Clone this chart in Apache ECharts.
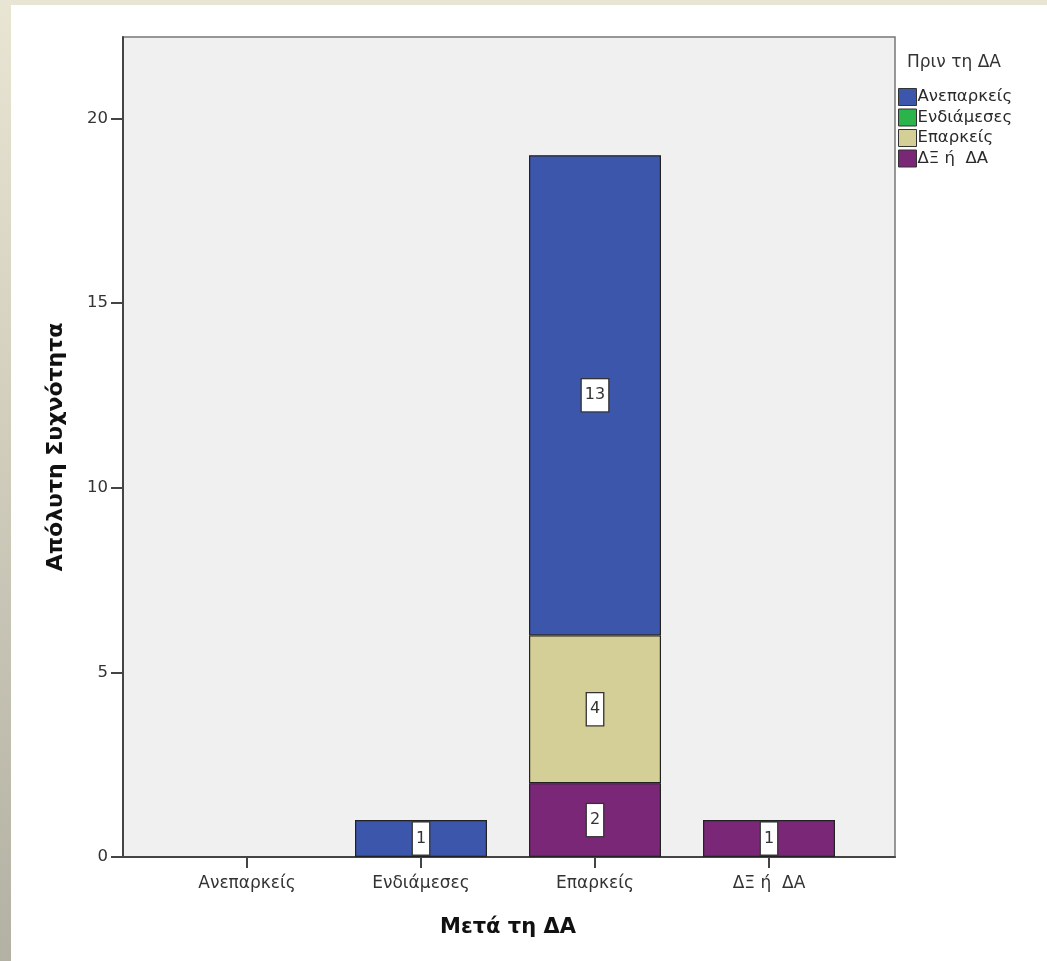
<!DOCTYPE html>
<html>
<head>
<meta charset="utf-8">
<script src="https://cdn.jsdelivr.net/npm/echarts@6/dist/echarts.min.js"></script>
<style>
html,body{margin:0;padding:0;background:#fff;}
#chart{width:1047px;height:961px;}
</style>
</head>
<body>
<div id="chart"></div>
<script>
// Categories (after) and series (before)
const categories = ['Ανεπαρκείς', 'Ενδιάμεσες', 'Επαρκείς', 'ΔΞ ή  ΔΑ'];
const legendOrder = ['Ανεπαρκείς', 'Ενδιάμεσες', 'Επαρκείς', 'ΔΞ ή  ΔΑ'];
const valsAnepar = [null, 1, 13, null];
const valsEndiam = [null, null, null, null];
const valsEpark = [null, null, 4, null];
const valsDX = [null, null, 2, 1];
const yTicks = [0, 5, 10, 15, 20];
const xTitle = 'Μετά τη ΔΑ';
const yTitle = 'Απόλυτη Συχνότητα';
const legendTitle = 'Πριν τη ΔΑ';

const colors = {
  'Ανεπαρκείς': '#3b56aa',
  'Ενδιάμεσες': '#2bb34c',
  'Επαρκείς': '#d4cf96',
  'ΔΞ ή  ΔΑ': '#7b2778'
};

const chart = echarts.init(document.getElementById('chart'));
const font = 'DejaVu Sans';
const labelStyle = {
  show: true,
  position: 'inside',
  formatter: p => (p.value == null ? '' : String(p.value)),
  backgroundColor: '#fff',
  borderColor: '#333',
  borderWidth: 1.3,
  padding: [8, 3],
  fontFamily: font,
  fontSize: 16,
  color: '#333'
};
function mk(name, data) {
  return {
    name: name, type: 'bar', stack: 'all', xAxisIndex: 1, yAxisIndex: 1,
    data: data, barWidth: 132,
    itemStyle: { color: colors[name], borderColor: '#222', borderWidth: 1.2 },
    label: labelStyle
  };
}
const YMAX = 22.2;
const option = {
  animation: false,
  backgroundColor: '#fff',
  graphic: [
    { type: 'rect', shape: { x: 0, y: 0, width: 11, height: 961 }, z: -10,
      style: { fill: new echarts.graphic.LinearGradient(0, 0, 0, 1, [
        { offset: 0, color: '#e9e5d3' }, { offset: 1, color: '#b3b1a3' }]) } },
    { type: 'rect', shape: { x: 0, y: 0, width: 1047, height: 5 }, z: -10,
      style: { fill: '#e9e5d4' } }
  ],
  title: {
    text: legendTitle, left: 907, top: 54, padding: 0,
    textStyle: { fontFamily: font, fontSize: 17, fontWeight: 'normal', color: '#333' }
  },
  legend: {
    data: legendOrder, orient: 'vertical', left: 898, top: 88, padding: 0,
    itemWidth: 18, itemHeight: 17, itemGap: 2.5,
    icon: 'rect',
    itemStyle: { borderColor: '#333', borderWidth: 1 },
    textStyle: { fontFamily: font, fontSize: 16.5, color: '#2a2a2a', padding: [0, 0, 0, -4] }
  },
  grid: [
    { left: 123, top: 37, width: 772, height: 820, show: true,
      backgroundColor: '#f0f0f0', borderColor: '#777', borderWidth: 1.5 },
    { left: 160, top: 37, width: 696, height: 820 }
  ],
  xAxis: [
    { type: 'value', gridIndex: 0, min: 0, max: 1, show: true,
      axisLine: { show: true, onZero: false, lineStyle: { color: '#444', width: 2 } },
      axisTick: { show: false }, axisLabel: { show: false }, splitLine: { show: false } },
    { type: 'category', gridIndex: 1, data: categories,
      axisLine: { show: false },
      axisTick: { show: true, alignWithLabel: true, length: 11, lineStyle: { color: '#444', width: 2 } },
      axisLabel: { margin: 18, fontFamily: font, fontSize: 17, color: '#333' },
      name: xTitle, nameLocation: 'middle', nameGap: 60,
      nameTextStyle: { fontFamily: 'DejaVu Sans', fontWeight: 'bold', fontSize: 21, color: '#111' } }
  ],
  yAxis: [
    { type: 'value', gridIndex: 0, min: 0, max: YMAX,
      axisLine: { show: true, lineStyle: { color: '#444', width: 2 } },
      axisTick: { show: true, length: 12, customValues: yTicks, lineStyle: { color: '#444', width: 2 } },
      axisLabel: { customValues: yTicks, margin: 15, fontFamily: font, fontSize: 16.5, color: '#333' },
      splitLine: { show: false },
      name: yTitle, nameLocation: 'middle', nameGap: 56, nameRotate: 90,
      nameTextStyle: { fontFamily: 'DejaVu Sans', fontWeight: 'bold', fontSize: 22, color: '#111' } },
    { type: 'value', gridIndex: 1, min: 0, max: YMAX, show: false, splitLine: { show: false } }
  ],
  series: [
    mk('ΔΞ ή  ΔΑ', valsDX),
    mk('Επαρκείς', valsEpark),
    mk('Ενδιάμεσες', valsEndiam),
    mk('Ανεπαρκείς', valsAnepar)
  ]
};
chart.setOption(option);
</script>
</body>
</html>
